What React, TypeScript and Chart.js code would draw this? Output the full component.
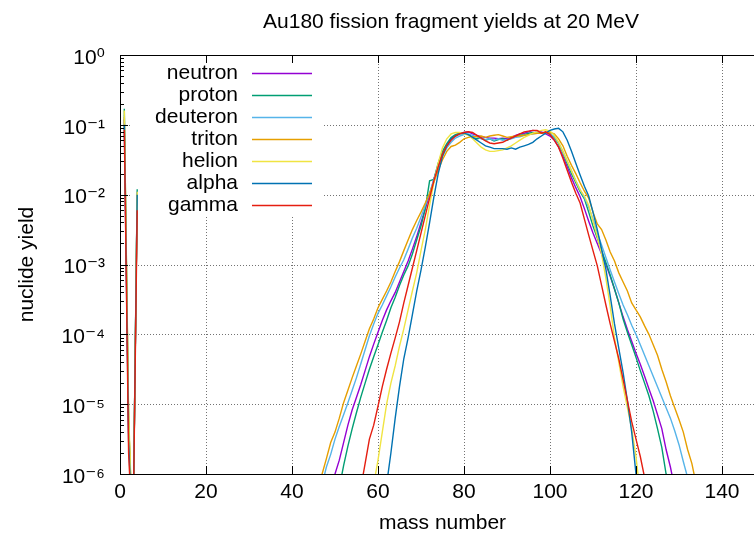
import React, { useEffect, useRef } from 'react';
import { Chart, registerables } from 'chart.js';

Chart.register(...registerables);

// ---------- text ----------
const TITLE = 'Au180 fission fragment yields at 20 MeV';
const X_TITLE = 'mass number';
const Y_TITLE = 'nuclide yield';

// ---------- axes ----------
const xTickValues = [0, 20, 40, 60, 80, 100, 120, 140];
const yTickValues = [1e-6, 1e-5, 1e-4, 1e-3, 1e-2, 1e-1, 1];
const yTickLabels = ['10⁻⁶', '10⁻⁵', '10⁻⁴', '10⁻³', '10⁻²', '10⁻¹', '10⁰'];

// ---------- series ----------
const seriesNames = ['neutron', 'proton', 'deuteron', 'triton', 'helion', 'alpha', 'gamma'];
const seriesColors = ['#9400d3', '#009e73', '#56b4e9', '#e69f00', '#f0e442', '#0072b2', '#e51e10'];

// light particles, mass numbers 1..4
const lightMass = [1, 2, 3, 4];
const neutronLight = [1.2e-1, 4e-6, 1e-7, 1.1e-2];
const protonLight = [1.7e-1, 6e-6, 1e-7, 1.2e-2];
const deuteronLight = [1.4e-1, 5e-6, 1e-7, 1.1e-2];
const tritonLight = [1.3e-1, 6e-6, 1e-7, 1.0e-2];
const helionLight = [1.6e-1, 8e-6, 1e-7, 1.1e-2];
const alphaLight = [1.0e-1, 3e-6, 1e-7, 1.0e-2];
const gammaLight = [8.5e-2, 2e-6, 1e-7, 6e-3];

// fission fragments: first mass number + yields for consecutive mass numbers
const neutronFirstA = 49;
const neutronFragments = [
  5.01e-7, 1.0e-6, 1.58e-6, 2.82e-6, 5.01e-6, 8.32e-6, 1.26e-5, 1.91e-5, 3.02e-5, 4.79e-5,
  7.24e-5, 1.07e-4, 1.58e-4, 2.24e-4, 3.02e-4, 3.98e-4, 5.62e-4, 7.94e-4, 1.12e-3, 1.66e-3,
  2.51e-3, 3.98e-3, 6.31e-3, 1.0e-2, 1.66e-2, 2.63e-2, 3.80e-2, 5.01e-2, 6.31e-2, 7.08e-2,
  7.59e-2, 7.76e-2, 7.94e-2, 7.41e-2, 7.08e-2, 6.76e-2, 6.61e-2, 6.46e-2, 6.46e-2, 6.31e-2,
  6.46e-2, 6.31e-2, 6.61e-2, 7.08e-2, 7.41e-2, 7.59e-2, 7.94e-2, 8.32e-2, 8.13e-2, 7.94e-2,
  7.41e-2, 6.92e-2, 6.03e-2, 4.79e-2, 3.55e-2, 2.51e-2, 1.74e-2, 1.26e-2, 9.33e-3, 6.31e-3,
  4.17e-3, 2.82e-3, 2.00e-3, 1.41e-3, 1.0e-3, 6.76e-4, 4.47e-4, 2.82e-4, 1.78e-4, 1.17e-4,
  7.94e-5, 5.37e-5, 3.72e-5, 2.51e-5, 1.66e-5, 1.12e-5, 7.08e-6, 4.47e-6, 2.24e-6, 1.26e-6,
  6.31e-7,
];

const protonFirstA = 51;
const protonFragments = [
  6.31e-7, 1.32e-6, 2.51e-6, 4.47e-6, 7.59e-6, 1.26e-5, 2.00e-5, 3.16e-5, 4.79e-5, 7.08e-5,
  1.07e-4, 1.58e-4, 2.40e-4, 3.39e-4, 5.01e-4, 7.08e-4, 9.55e-4, 1.41e-3, 2.24e-3, 3.55e-3,
  6.31e-3, 1.58e-2, 1.66e-2, 2.82e-2, 4.17e-2, 5.37e-2, 6.61e-2, 7.24e-2, 7.59e-2, 7.41e-2,
  7.24e-2, 6.61e-2, 6.31e-2, 6.46e-2, 6.03e-2, 6.31e-2, 5.89e-2, 6.17e-2, 6.31e-2, 6.03e-2,
  6.46e-2, 6.76e-2, 7.08e-2, 7.24e-2, 7.59e-2, 7.76e-2, 7.59e-2, 7.59e-2, 7.76e-2, 7.41e-2,
  6.61e-2, 5.37e-2, 3.98e-2, 2.82e-2, 2.00e-2, 1.48e-2, 1.10e-2, 8.71e-3, 5.62e-3, 3.55e-3,
  2.40e-3, 1.58e-3, 1.07e-3, 7.08e-4, 4.47e-4, 2.82e-4, 1.66e-4, 1.07e-4, 7.08e-5, 4.68e-5,
  3.02e-5, 2.00e-5, 1.32e-5, 7.94e-6, 4.47e-6, 2.40e-6, 1.0e-6, 5.01e-7,
];

const deuteronFirstA = 46;
const deuteronFragments = [
  3.16e-7, 7.08e-7, 1.26e-6, 1.91e-6, 3.16e-6, 4.79e-6, 7.08e-6, 1.05e-5, 1.58e-5, 2.40e-5,
  3.80e-5, 6.03e-5, 9.55e-5, 1.41e-4, 2.00e-4, 2.63e-4, 3.55e-4, 4.79e-4, 6.61e-4, 8.91e-4,
  1.17e-3, 1.66e-3, 2.40e-3, 3.31e-3, 4.79e-3, 7.08e-3, 1.05e-2, 1.66e-2, 2.51e-2, 3.55e-2,
  4.68e-2, 5.62e-2, 6.46e-2, 6.92e-2, 7.24e-2, 7.41e-2, 7.08e-2, 6.76e-2, 6.31e-2, 6.17e-2,
  6.31e-2, 6.03e-2, 6.31e-2, 6.03e-2, 6.17e-2, 6.31e-2, 6.61e-2, 6.76e-2, 7.08e-2, 7.24e-2,
  7.41e-2, 7.59e-2, 7.76e-2, 7.59e-2, 7.41e-2, 6.76e-2, 5.50e-2, 4.17e-2, 3.02e-2, 2.19e-2,
  1.58e-2, 1.17e-2, 9.12e-3, 6.61e-3, 4.47e-3, 2.82e-3, 1.91e-3, 1.26e-3, 8.32e-4, 5.62e-4,
  3.80e-4, 2.63e-4, 1.91e-4, 1.35e-4, 1.0e-4, 7.08e-5, 5.01e-5, 3.55e-5, 2.51e-5, 1.78e-5,
  1.26e-5, 8.91e-6, 6.31e-6, 4.17e-6, 2.63e-6, 1.51e-6, 8.91e-7, 5.01e-7,
];

const tritonFirstA = 46;
const tritonFragments = [
  5.01e-7, 1.0e-6, 1.66e-6, 2.82e-6, 3.98e-6, 6.31e-6, 1.05e-5, 1.58e-5, 2.40e-5, 3.55e-5,
  5.25e-5, 7.94e-5, 1.20e-4, 1.66e-4, 2.40e-4, 3.16e-4, 4.17e-4, 5.62e-4, 7.94e-4, 1.10e-3,
  1.58e-3, 2.24e-3, 3.16e-3, 4.27e-3, 5.62e-3, 7.59e-3, 1.05e-2, 1.51e-2, 2.24e-2, 3.16e-2,
  4.17e-2, 4.90e-2, 5.13e-2, 5.62e-2, 6.31e-2, 6.61e-2, 6.76e-2, 6.76e-2, 6.92e-2, 6.61e-2,
  6.92e-2, 7.08e-2, 7.24e-2, 6.92e-2, 6.61e-2, 6.76e-2, 6.92e-2, 6.92e-2, 7.08e-2, 7.24e-2,
  7.41e-2, 7.59e-2, 7.59e-2, 7.76e-2, 7.76e-2, 7.41e-2, 6.31e-2, 5.01e-2, 3.55e-2, 2.63e-2,
  2.00e-2, 1.48e-2, 1.12e-2, 8.91e-3, 5.62e-3, 3.80e-3, 3.16e-3, 2.24e-3, 1.51e-3, 1.12e-3,
  7.59e-4, 5.62e-4, 4.17e-4, 2.82e-4, 2.24e-4, 1.78e-4, 1.32e-4, 1.0e-4, 7.08e-5, 5.01e-5,
  3.16e-5, 2.09e-5, 1.32e-5, 8.91e-6, 6.03e-6, 3.98e-6, 2.24e-6, 1.41e-6, 7.08e-7, 3.98e-7,
];

const helionFirstA = 58;
const helionFragments = [
  2.51e-7, 7.08e-7, 1.58e-6, 3.98e-6, 1.0e-5, 2.00e-5, 3.55e-5, 6.76e-5, 1.20e-4, 2.24e-4,
  4.17e-4, 7.59e-4, 1.58e-3, 3.16e-3, 7.08e-3, 1.51e-2, 2.82e-2, 4.68e-2, 6.31e-2, 7.41e-2,
  7.76e-2, 7.76e-2, 7.41e-2, 7.08e-2, 6.31e-2, 5.50e-2, 4.79e-2, 4.37e-2, 4.17e-2, 4.17e-2,
  4.27e-2, 4.37e-2, 4.68e-2, 5.01e-2, 5.50e-2, 6.03e-2, 6.61e-2, 7.08e-2, 7.59e-2, 7.94e-2,
  8.32e-2, 8.51e-2, 8.13e-2, 7.08e-2, 5.62e-2, 4.17e-2, 3.02e-2, 2.19e-2, 1.58e-2, 1.17e-2,
  9.55e-3, 7.08e-3, 4.17e-3, 2.51e-3, 1.41e-3, 6.31e-4, 2.51e-4, 8.91e-5, 3.98e-5, 1.78e-5,
  8.91e-6, 4.47e-6, 1.78e-6, 5.01e-7,
];

const alphaFirstA = 61;
const alphaFragments = [
  2.00e-7, 7.08e-7, 2.00e-6, 6.31e-6, 1.78e-5, 4.47e-5, 8.91e-5, 1.91e-4, 4.17e-4, 8.32e-4,
  1.78e-3, 3.98e-3, 9.33e-3, 2.00e-2, 3.55e-2, 5.01e-2, 6.31e-2, 6.92e-2, 7.41e-2, 7.59e-2,
  7.24e-2, 6.61e-2, 6.03e-2, 5.50e-2, 5.01e-2, 4.79e-2, 4.57e-2, 4.57e-2, 4.57e-2, 4.47e-2,
  4.68e-2, 4.47e-2, 4.79e-2, 5.01e-2, 5.25e-2, 5.62e-2, 6.31e-2, 6.92e-2, 7.59e-2, 8.32e-2,
  8.71e-2, 8.91e-2, 7.94e-2, 6.03e-2, 4.17e-2, 2.82e-2, 1.91e-2, 1.32e-2, 9.55e-3, 5.62e-3,
  3.16e-3, 1.66e-3, 8.51e-4, 3.55e-4, 1.41e-4, 6.31e-5, 2.82e-5, 1.12e-5, 3.98e-6, 1.0e-6,
  2.51e-7,
];

const gammaFirstA = 55;
const gammaFragments = [
  3.16e-7, 6.31e-7, 1.41e-6, 3.16e-6, 5.01e-6, 9.33e-6, 1.78e-5, 3.16e-5, 5.37e-5, 8.91e-5,
  1.51e-4, 2.82e-4, 5.01e-4, 8.91e-4, 1.58e-3, 2.82e-3, 5.01e-3, 8.91e-3, 1.58e-2, 2.51e-2,
  3.80e-2, 5.01e-2, 6.03e-2, 6.92e-2, 7.41e-2, 7.76e-2, 7.94e-2, 7.76e-2, 7.08e-2, 6.46e-2,
  5.89e-2, 5.50e-2, 5.37e-2, 5.50e-2, 5.62e-2, 6.03e-2, 6.46e-2, 6.92e-2, 7.41e-2, 7.94e-2,
  8.13e-2, 8.32e-2, 8.32e-2, 7.59e-2, 7.94e-2, 7.24e-2, 6.03e-2, 4.79e-2, 3.31e-2, 2.24e-2,
  1.51e-2, 1.05e-2, 7.59e-3, 4.47e-3, 2.63e-3, 1.58e-3, 9.55e-4, 5.01e-4, 2.63e-4, 1.41e-4,
  7.94e-5, 4.47e-5, 2.24e-5, 1.12e-5, 5.62e-6, 3.16e-6, 1.78e-6, 8.91e-7, 3.98e-7,
];

const seriesLight = [neutronLight, protonLight, deuteronLight, tritonLight, helionLight, alphaLight, gammaLight];
const seriesFirstA = [neutronFirstA, protonFirstA, deuteronFirstA, tritonFirstA, helionFirstA, alphaFirstA, gammaFirstA];
const seriesFragments = [neutronFragments, protonFragments, deuteronFragments, tritonFragments, helionFragments, alphaFragments, gammaFragments];

// ---------- style ----------
const FONT_FAMILY = '"Liberation Sans", Arial, Helvetica, "DejaVu Sans", sans-serif';
const FONT_SIZE = 21;
const CANVAS_W = 902;
const CANVAS_H = 540;
const GRID_COLOR = 'rgba(0,0,0,0.55)';

function buildPoints(i: number) {
  const pts: { x: number; y: number | null }[] = [];
  seriesLight[i].forEach((v, k) => pts.push({ x: lightMass[k], y: v }));
  pts.push({ x: lightMass[lightMass.length - 1] + 1, y: null });
  seriesFragments[i].forEach((v, k) => pts.push({ x: seriesFirstA[i] + k, y: v }));
  return pts;
}

const gnuplotFrame = {
  id: 'gnuplotFrame',
  beforeDatasetsDraw(chart: any) {
    const { ctx, chartArea, scales } = chart;
    const { left, right, top, bottom } = chartArea;
    const x = scales.x;
    const y = scales.y;
    ctx.save();
    ctx.strokeStyle = GRID_COLOR;
    ctx.lineWidth = 1;
    ctx.setLineDash([1, 2]);
    ctx.beginPath();
    for (const v of xTickValues) {
      if (v === 0) continue;
      const px = Math.round(x.getPixelForValue(v)) + 0.5;
      ctx.moveTo(px, top);
      ctx.lineTo(px, bottom);
    }
    for (const v of yTickValues) {
      if (v === 1 || v === 1e-6) continue;
      const py = Math.round(y.getPixelForValue(v)) + 0.5;
      ctx.moveTo(left, py);
      ctx.lineTo(right, py);
    }
    ctx.stroke();
    ctx.setLineDash([]);
    // opaque key box
    ctx.fillStyle = '#ffffff';
    ctx.fillRect(left + 11, top + 7, 191, 155);
    ctx.restore();
  },
  afterDatasetsDraw(chart: any) {
    const { ctx, chartArea, scales } = chart;
    const { left, right, top, bottom } = chartArea;
    const x = scales.x;
    const y = scales.y;
    ctx.save();
    ctx.strokeStyle = '#000';
    ctx.lineWidth = 1;
    ctx.beginPath();
    // major x ticks (bottom and top)
    for (const v of xTickValues) {
      const px = Math.round(x.getPixelForValue(v)) + 0.5;
      ctx.moveTo(px, bottom);
      ctx.lineTo(px, bottom - 8);
      ctx.moveTo(px, top);
      ctx.lineTo(px, top + 8);
    }
    // y ticks: majors and minors
    for (let e = -6; e <= 0; e++) {
      const major = Math.pow(10, e);
      const py = Math.round(y.getPixelForValue(major)) + 0.5;
      ctx.moveTo(left, py);
      ctx.lineTo(left + 8, py);
      if (e < 0) {
        for (let m = 2; m <= 9; m++) {
          const pm = Math.round(y.getPixelForValue(m * major)) + 0.5;
          ctx.moveTo(left, pm);
          ctx.lineTo(left + 4, pm);
        }
      }
    }
    ctx.stroke();
    // border
    ctx.strokeRect(Math.round(left) + 0.5, Math.round(top) + 0.5, Math.round(right - left), Math.round(bottom - top));

    // key
    ctx.font = `${FONT_SIZE}px ${FONT_FAMILY}`;
    ctx.textAlign = 'right';
    ctx.textBaseline = 'middle';
    ctx.fillStyle = '#000';
    seriesNames.forEach((name, i) => {
      const ry = top + 18 + i * 22;
      ctx.fillText(name, left + 118, ry);
      ctx.strokeStyle = seriesColors[i];
      ctx.lineWidth = 1.4;
      ctx.beginPath();
      ctx.moveTo(left + 132, ry + 0.5);
      ctx.lineTo(left + 192, ry + 0.5);
      ctx.stroke();
    });
    ctx.restore();
  },
};

export default function App() {
  const canvasRef = useRef<HTMLCanvasElement | null>(null);

  useEffect(() => {
    document.body.style.margin = '0';
    document.body.style.overflow = 'hidden';
    document.documentElement.style.overflow = 'hidden';
    const canvas = canvasRef.current;
    if (!canvas) return;
    const font = { family: FONT_FAMILY, size: FONT_SIZE, weight: 'normal' as const };
    const datasets = seriesNames.map((name, i) => ({
      label: name,
      data: buildPoints(i),
      borderColor: seriesColors[i],
      backgroundColor: seriesColors[i],
      borderWidth: 1.4,
      pointRadius: 0,
      pointHoverRadius: 0,
      tension: 0,
      spanGaps: false,
      order: seriesNames.length - 1 - i,
    }));
    const chart = new Chart(canvas, {
      type: 'line',
      data: { datasets },
      options: {
        responsive: false,
        maintainAspectRatio: false,
        animation: false,
        parsing: true,
        layout: { padding: 0 },
        plugins: {
          legend: { display: false },
          tooltip: { enabled: false },
          title: {
            display: true,
            text: TITLE,
            color: '#000',
            font,
            padding: { top: 10, bottom: 19.8 },
          },
        },
        scales: {
          x: {
            type: 'linear',
            min: 0,
            max: 150,
            afterBuildTicks: (scale: any) => {
              scale.ticks = xTickValues.map((v) => ({ value: v }));
            },
            afterFit: (scale: any) => {
              scale.height = 66;
            },
            grid: { display: false, drawTicks: false },
            border: { display: false },
            ticks: {
              color: '#000',
              font,
              padding: 6,
              autoSkip: false,
              maxRotation: 0,
              callback: (value: any) => String(value),
            },
            title: {
              display: true,
              text: X_TITLE,
              color: '#000',
              font,
              padding: { top: 0, bottom: 4.4 },
            },
          },
          y: {
            type: 'logarithmic',
            min: 1e-6,
            max: 1,
            afterBuildTicks: (scale: any) => {
              scale.ticks = yTickValues.map((v) => ({ value: v }));
            },
            afterFit: (scale: any) => {
              scale.width = 120;
            },
            grid: { display: false, drawTicks: false },
            border: { display: false },
            ticks: {
              color: '#000',
              font,
              padding: 15,
              labelOffset: 3,
              autoSkip: false,
              callback: (_value: any, index: number) => yTickLabels[index],
            },
            title: {
              display: true,
              text: Y_TITLE,
              color: '#000',
              font,
              padding: { top: 14.4, bottom: 0 },
            },
          },
          // blank margin to the right of the plot (the figure continues past the visible edge)
          rightMargin: {
            type: 'linear',
            position: 'right',
            display: true,
            afterFit: (scale: any) => {
              scale.width = CANVAS_W - 765;
            },
            grid: { display: false, drawTicks: false },
            border: { display: false },
            ticks: { display: false },
          },
        },
      },
      plugins: [gnuplotFrame],
    });
    return () => chart.destroy();
  }, []);

  return (
    <div style={{ width: CANVAS_W, height: CANVAS_H, background: '#fff' }}>
      <canvas ref={canvasRef} width={CANVAS_W} height={CANVAS_H} style={{ display: 'block' }} />
    </div>
  );
}
